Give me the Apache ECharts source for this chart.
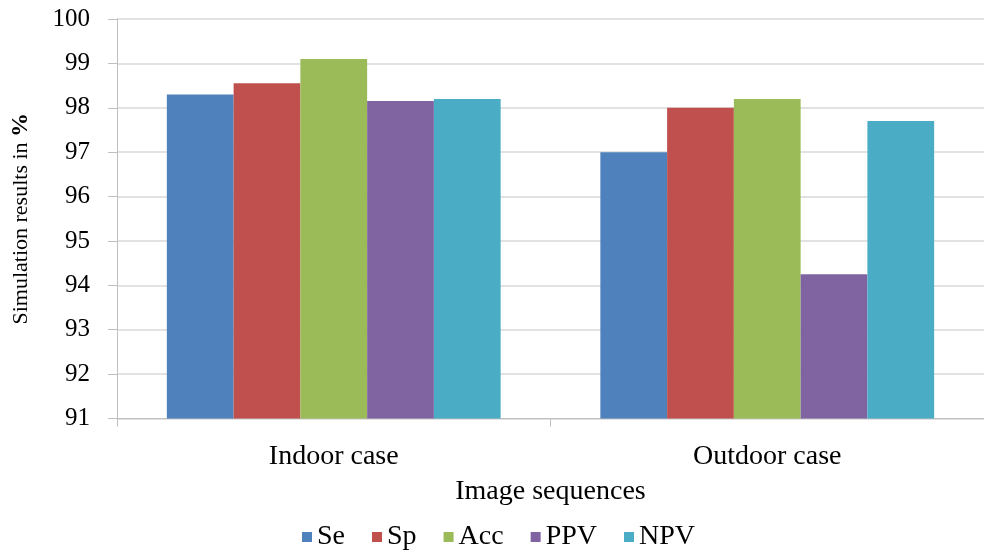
<!DOCTYPE html>
<html>
<head>
<meta charset="utf-8">
<script src="https://cdn.jsdelivr.net/npm/echarts@6/dist/echarts.min.js"></script>
<style>
  html, body { margin: 0; padding: 0; background: #ffffff; }
  #chart { width: 984px; height: 551px; }
</style>
</head>
<body>
<div id="chart"></div>
<script>
// Image sequences on the category axis
var categories = ['Indoor case', 'Outdoor case'];

// Metric names, one bar series each
var metricNames = ['Se', 'Sp', 'Acc', 'PPV', 'NPV'];

// Simulation results in %, per metric, for [Indoor, Outdoor]
var seValues  = [98.3, 97.0];
var spValues  = [98.55, 98.0];
var accValues = [99.1, 98.2];
var ppvValues = [98.15, 94.25];
var npvValues = [98.2, 97.7];

var metricValues = [seValues, spValues, accValues, ppvValues, npvValues];
var metricColors = ['#4F81BD', '#C0504D', '#9BBB59', '#8064A2', '#4BACC6'];

var FONT = '"Liberation Serif", "Times New Roman", serif';

var chart = echarts.init(document.getElementById('chart'), null, { renderer: 'canvas' });

var series = metricNames.map(function (name, i) {
  return {
    name: name,
    type: 'bar',
    data: metricValues[i],
    itemStyle: { color: metricColors[i] },
    barGap: '0%',
    barCategoryGap: '23%'
  };
});

chart.setOption({
  animation: false,
  backgroundColor: '#ffffff',
  textStyle: { fontFamily: FONT, color: '#000000' },
  grid: { left: 117, right: -4, top: 19, bottom: 132.5, containLabel: false },
  legend: {
    data: metricNames,
    bottom: -5,
    left: 297,
    icon: 'rect',
    itemWidth: 10,
    itemHeight: 10,
    itemGap: 27,
    textStyle: { fontFamily: FONT, fontSize: 28, color: '#000000' }
  },
  xAxis: {
    type: 'category',
    data: categories,
    name: 'Image sequences',
    nameLocation: 'middle',
    nameGap: 59,
    nameTextStyle: { fontFamily: FONT, fontSize: 28, color: '#000000' },
    axisLine: { lineStyle: { color: '#BFBFBF', width: 1 } },
    axisTick: { show: true, length: 8, lineStyle: { color: '#BFBFBF' } },
    axisLabel: { fontFamily: FONT, fontSize: 28, color: '#000000', margin: 24 }
  },
  yAxis: {
    type: 'value',
    min: 91,
    max: 100,
    interval: 1,
    name: '{a|Simulation results in }{b|%}',
    nameLocation: 'middle',
    nameGap: 84,
    nameRotate: 90,
    nameTextStyle: {
      rich: {
        a: { fontFamily: FONT, fontSize: 22, color: '#000000' },
        b: { fontFamily: FONT, fontSize: 24, fontWeight: 'bold', color: '#000000' }
      }
    },
    axisLine: { show: true, lineStyle: { color: '#BFBFBF', width: 1 } },
    axisTick: { show: true, length: 9, lineStyle: { color: '#BFBFBF' } },
    axisLabel: { fontFamily: FONT, fontSize: 25, color: '#000000', margin: 27 },
    splitLine: { show: true, lineStyle: { color: '#D9D9D9', width: 1.5 } }
  },
  series: series
});
</script>
</body>
</html>
